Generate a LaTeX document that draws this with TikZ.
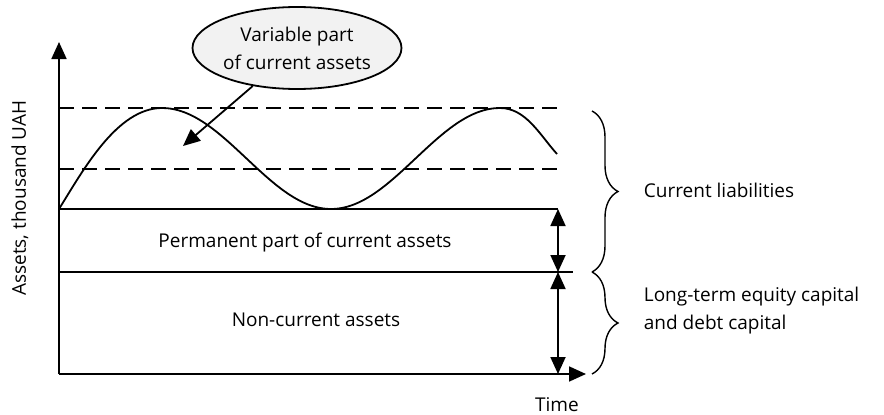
\documentclass[tikz,border=0pt]{standalone}
\usepackage{fontspec}
\setmainfont{Open Sans}
\usepackage{tikz}
\usetikzlibrary{arrows.meta}
\usetikzlibrary{shapes.geometric}
\usetikzlibrary{decorations.pathreplacing}

\begin{document}
\begin{tikzpicture}[x=1pt,y=-1pt,line width=1.8pt,
    txt/.style={font=\fontsize{19}{28}\selectfont,inner sep=0pt},
    tip/.style={-{Triangle[length=17pt,width=15pt]}},
    twotip/.style={{Triangle[length=17pt,width=15pt]}-{Triangle[length=17pt,width=15pt]}},
    level/.style={dash pattern=on 15pt off 8pt},
    curly/.style={decorate,decoration={brace,amplitude=26pt},line width=1.4pt}]
  \useasboundingbox (0,0) rectangle (884,415);
  \coordinate (o) at (59,374);
  \coordinate (ytop) at (59,42);
  \coordinate (xend) at (586,374);
  \coordinate (p0) at (59,209);
  \coordinate (p1) at (558,209);
  \coordinate (m0) at (59,272);
  \coordinate (m1) at (573,272);
  \coordinate (mid) at (558,272);
  \coordinate (bot) at (558,374);
  \coordinate (peak) at (162,108);
  \coordinate (peakb) at (500,108);
  \coordinate (wend) at (557,154);
  \draw[tip] (o) -- (ytop);
  \draw[tip] (o) -- (xend);
  \draw (p0) -- (p1);
  \draw (m0) -- (m1);
  \draw[level] (59,108) -- (558,108);
  \draw[level] (59,169) -- (558,169);
  \draw (p0) to[out=58,in=180,looseness=0.8] (peak);
  \draw[domain=162:500,samples=60,smooth] plot (\x,{158.5-50.5*cos((\x-162)/338*360)});
  \draw (peakb) to[out=0,in=132,looseness=0.9] (wend);
  \draw[twotip] (p1) -- (mid);
  \draw[twotip] (mid) -- (bot);
  \node[ellipse,draw,fill=gray!10,minimum width=200pt,minimum height=82pt,inner sep=0pt,
    txt,align=center] (var) at (297,48) {Variable part\\of current assets};
  \coordinate (ptr) at (183,146);
  \draw[tip] (var) -- (ptr);
  \node[txt] (perm) at (305,243) {Permanent part of current assets};
  \node[txt] (nca) at (316,320) {Non-current assets};
  \node[txt] (time) at (557,405) {Time};
  \node[txt,rotate=90] (assets) at (20,198) {Assets, thousand UAH};
  \draw[curly] (592,111) -- (592,272);
  \draw[curly] (592,272) -- (592,374);
  \node[txt,anchor=west] (cl) at (643,190) {Current liabilities};
  \node[txt,anchor=west,align=left] (lt) at (643,311) {Long-term equity capital\\and debt capital};
\end{tikzpicture}
\end{document}
